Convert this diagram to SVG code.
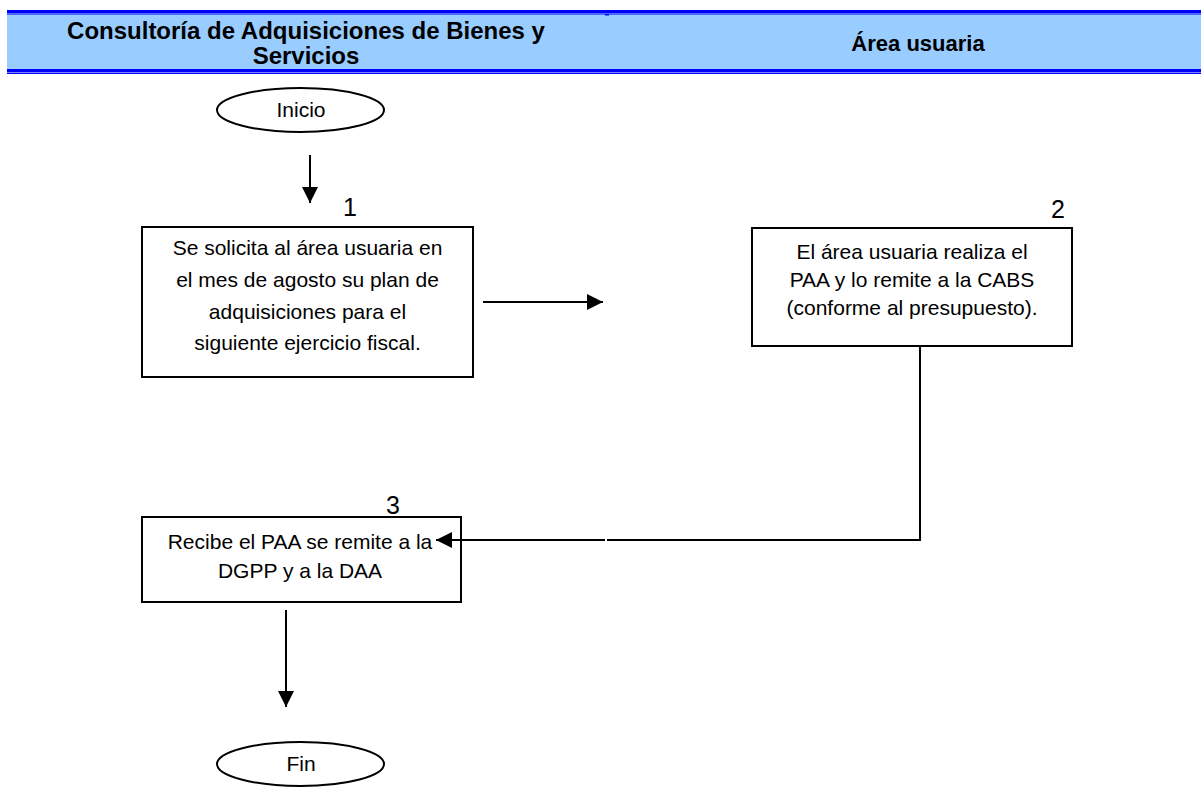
<svg xmlns="http://www.w3.org/2000/svg" width="1201" height="792" viewBox="0 0 1201 792">
<style>
.box{fill:#fff;stroke:#000;stroke-width:2}
.t{font-family:"Liberation Sans",Arial,sans-serif;font-size:21px;fill:#000;text-anchor:middle}
.h{font-family:"Liberation Sans",Arial,sans-serif;font-size:24px;font-weight:bold;fill:#000;text-anchor:middle}
.h2{font-family:"Liberation Sans",Arial,sans-serif;font-size:22px;font-weight:bold;fill:#000;text-anchor:middle}
.n{font-family:"Liberation Sans",Arial,sans-serif;font-size:25px;fill:#000;text-anchor:middle}
.c{fill:none;stroke:#000;stroke-width:2}
</style>
<defs>
<marker id="ah" markerWidth="8" markerHeight="8" refX="8" refY="4" orient="auto" markerUnits="strokeWidth">
<path d="M0,0 L8,4 L0,8 Z" fill="#000"/>
</marker>
</defs>
<rect width="1201" height="792" fill="#fff"/>
<g id="header">
<rect x="7" y="13" width="1194" height="57" fill="#99CCFF"/>
<rect x="7" y="10" width="1194" height="3" fill="#0000FF"/>
<rect x="7" y="13.5" width="1194" height="1" fill="#0000FF"/>
<rect x="7" y="69" width="1194" height="3" fill="#0000FF"/>
<rect x="7" y="72.5" width="1194" height="1.5" fill="#0000FF"/>
<rect x="605" y="14" width="4" height="1.5" fill="#0000FF"/>
<text class="h" x="306" y="39">Consultoría de Adquisiciones de Bienes y</text>
<text class="h" x="306" y="64">Servicios</text>
<text class="h2" x="918" y="51">Área usuaria</text>
</g>
<g id="inicio">
<ellipse class="box" cx="300.5" cy="110" rx="83.5" ry="22"/>
<text class="t" x="301" y="117">Inicio</text>
</g>
<g id="step1">
<rect class="box" x="142" y="227" width="331" height="150"/>
<text class="n" x="350" y="216">1</text>
<text class="t" x="307.5" y="255">Se solicita al área usuaria en</text>
<text class="t" x="307.5" y="287">el mes de agosto su plan de</text>
<text class="t" x="307.5" y="319">adquisiciones para el</text>
<text class="t" x="307.5" y="350">siguiente ejercicio fiscal.</text>
</g>
<g id="step2">
<rect class="box" x="752" y="228" width="320" height="118"/>
<text class="n" x="1058" y="218">2</text>
<text class="t" x="912" y="259">El área usuaria realiza el</text>
<text class="t" x="912" y="287">PAA y lo remite a la CABS</text>
<text class="t" x="912" y="315">(conforme al presupuesto).</text>
</g>
<g id="step3">
<rect class="box" x="142" y="517" width="319" height="85"/>
<text class="n" x="393" y="514">3</text>
<text class="t" x="300" y="549">Recibe el PAA se remite a la</text>
<text class="t" x="300" y="578">DGPP y a la DAA</text>
</g>
<g id="fin">
<ellipse class="box" cx="300.5" cy="764" rx="83.5" ry="22"/>
<text class="t" x="301" y="771">Fin</text>
</g>
<g id="connectors">
<line class="c" x1="310" y1="155" x2="310" y2="203" marker-end="url(#ah)"/>
<line class="c" x1="483" y1="302" x2="603" y2="302" marker-end="url(#ah)"/>
<polyline class="c" points="920,346 920,540 607,540"/>
<line class="c" x1="605" y1="540" x2="436" y2="540" marker-end="url(#ah)"/>
<line class="c" x1="286" y1="610" x2="286" y2="707" marker-end="url(#ah)"/>
</g>
</svg>
